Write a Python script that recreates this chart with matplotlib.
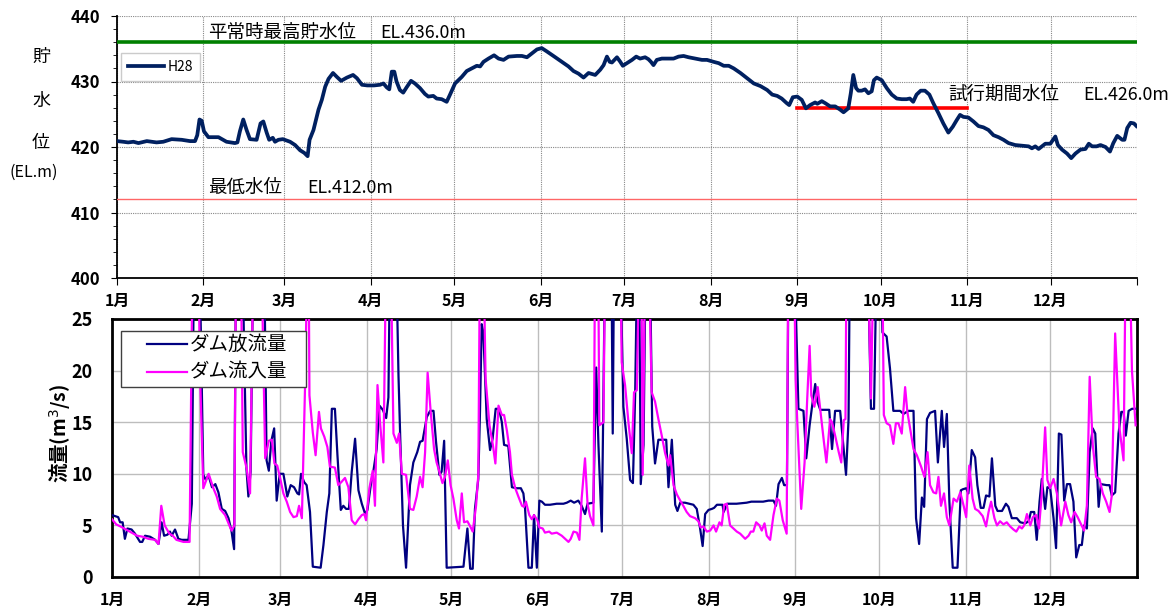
import matplotlib
matplotlib.use("Agg")
import matplotlib.pyplot as plt
from matplotlib.ticker import MultipleLocator, FixedLocator
from matplotlib.patches import Rectangle
from matplotlib.lines import Line2D

plt.rcParams['font.family'] = ['Noto Sans CJK JP', 'DejaVu Sans']

# ---------------- data ----------------
month_starts = [0, 31, 60, 91, 121, 152, 182, 213, 244, 274, 305, 335, 366]
month_labels = ['1月', '2月', '3月', '4月', '5月', '6月', '7月', '8月', '9月', '10月', '11月', '12月']

# reservoir water level H28 (day of year, EL.m)
wl_day = [0, 2.2, 4, 5.9, 7.7, 10.7, 14.2, 16.6, 19.6, 23.2, 26.2, 28, 28.8, 29.6, 30.4, 31.2, 32.8, 36.4,
          39.3, 42.3, 43.2, 44.1, 45.3, 46.5, 47.7, 50.1, 51.5, 52.5, 53.7, 54.6, 55.9, 56.7, 57.9, 59.5,
          62.1, 63.9, 65.7, 67.2, 68.4, 69.1, 70.5, 72.3, 73.5, 74.7, 75.9, 77.5, 78.9, 80.4, 82.5, 84.7,
          86.1, 87.9, 89.8, 92.2, 94.4, 95.6, 96.8, 97.7, 98.6, 99.5, 100.3, 101.5, 102.7, 103.9, 105.5,
          106.9, 108.7, 110.5, 111.7, 113.5, 114.7, 116.5, 118.3, 119.5, 121.3, 123.7, 125.5, 127.3, 129.1,
          130.3, 131.5, 133.3, 135.3, 136.9, 138.7, 140.5, 143.5, 145.3, 147.1, 148.9, 150.7, 152.4, 154.2,
          156.6, 159.6, 162, 163.8, 165.6, 167.4, 169.2, 171.6, 173.4, 174.6, 175.8, 176.8, 177.6, 179.4,
          180.6, 181.5, 183, 184.8, 186.3, 187.7, 189.5, 190.7, 191.6, 192.5, 193.7, 195.5, 197.3, 199.7,
          201.5, 203.3, 205.1, 207.5, 209.9, 211.7, 214.1, 215.9, 217.7, 219.5, 221.3, 223.7, 226.1, 228.5,
          230.9, 233.3, 235.1, 236.9, 238.5, 240.3, 241.2, 242.5, 244.1, 245.7, 247.2, 248.7, 250.5, 251.3,
          252.9, 254.1, 255.9, 257.7, 259.5, 260.7, 262.4, 263.3, 264.2, 265.2, 266, 267.2, 268.4, 269.6,
          270.8, 271.6, 272.6, 274.4, 276.2, 278, 279.8, 281.6, 283.3, 284.5, 285.7, 286.9, 288.4, 289.9,
          291.5, 292.9, 294.7, 296.5, 298.3, 299.9, 301.3, 302.5, 303.7, 305.5, 307.3, 309.1, 310.9, 312.7,
          314.5, 316.3, 318.1, 319.9, 322.3, 324.7, 327.1, 328.3, 329.5, 330.7, 331.9, 333.1, 334.9, 335.9,
          336.7, 337.6, 339.1, 340.9, 342.4, 343.9, 345.7, 347.5, 348.7, 349.9, 351.5, 352.9, 354.7, 356.3,
          357.5, 358.9, 360.7, 361.5, 362.5, 363.7, 364.9, 365.8]
wl_val = [420.9, 420.8, 420.7, 420.8, 420.6, 420.9, 420.7, 420.8, 421.2, 421.1, 420.9, 420.9, 421.8, 424.2,
          424.0, 422.4, 421.5, 421.5, 420.8, 420.6, 420.7, 422.4, 424.2, 422.6, 421.2, 421.1, 423.6, 423.9,
          422.2, 421.1, 421.4, 420.8, 421.1, 421.2, 420.8, 420.3, 419.5, 419.1, 418.6, 421.1, 422.6, 425.7,
          427.2, 429.2, 430.4, 431.3, 430.7, 430.1, 430.6, 431.0, 430.5, 429.5, 429.4, 429.4, 429.5, 429.7,
          429.1, 428.8, 431.5, 431.5, 430.0, 428.7, 428.3, 429.1, 430.1, 429.7, 429.0, 428.1, 427.7, 427.8,
          427.4, 427.3, 426.9, 428.0, 429.7, 430.7, 431.6, 432.0, 432.4, 432.3, 433.0, 433.5, 434.0, 433.5,
          433.3, 433.8, 433.9, 433.9, 433.7, 434.3, 434.9, 435.1, 434.6, 433.9, 433.0, 432.3, 431.6, 431.2,
          430.6, 431.3, 431.0, 431.8, 432.5, 433.8, 433.0, 432.9, 433.7, 433.0, 432.4, 432.8, 433.3, 433.8,
          433.5, 433.7, 433.4, 433.0, 432.5, 433.3, 433.5, 433.5, 433.5, 433.8, 433.9, 433.7, 433.5, 433.3,
          433.3, 433.0, 432.8, 432.4, 432.4, 432.0, 431.3, 430.5, 429.7, 429.3, 428.7, 428.0, 427.8, 427.4,
          426.7, 426.4, 427.6, 427.7, 427.2, 425.9, 426.4, 426.8, 426.6, 427.0, 426.7, 426.2, 426.2, 425.7,
          425.3, 425.9, 428.2, 431.0, 429.0, 428.6, 428.6, 428.8, 428.2, 428.5, 430.2, 430.6, 430.2, 429.0,
          428.0, 427.4, 427.3, 427.3, 427.4, 426.9, 428.0, 428.6, 428.6, 428.0, 426.7, 425.2, 423.6, 422.2,
          423.1, 424.1, 424.9, 424.6, 424.5, 423.9, 423.2, 423.0, 422.6, 421.8, 421.5, 421.1, 420.6, 420.3,
          420.2, 420.1, 419.8, 420.1, 419.7, 420.1, 420.5, 420.5, 421.1, 421.6, 420.3, 419.6, 419.0, 418.3,
          419.0, 419.6, 419.7, 420.5, 420.1, 420.1, 420.3, 420.0, 419.3, 420.6, 421.7, 421.1, 421.1, 422.9,
          423.7, 423.6, 423.2]

# dam outflow (m3/s) -- peaks above 25 run off the top of the chart
out_day = [0, 2.2, 2.9, 3.8, 4.6, 5.5, 7.0, 8.2, 10.0, 10.8, 11.8, 13.6, 15.4, 16.6, 17.7, 18.6, 19.8, 20.7,
           21.3, 22.5, 23.7, 24.9, 27.3, 28.5, 29.3, 31.2, 32.6, 33.5, 34.4, 35.7, 36.9, 38.0, 39.2, 40.4,
           41.6, 42.7, 43.6, 44.3, 46.5, 48.0, 48.7, 49.5, 50.5, 54.3, 55.2, 56.0, 56.9, 57.9, 58.8, 59.9,
           61.2, 62.6, 63.8, 65.0, 66.2, 66.8, 67.5, 68.6, 69.5, 70.7, 71.7, 74.5, 75.5, 76.7, 77.6, 78.5,
           79.6, 80.5, 81.7, 82.6, 83.6, 84.6, 85.6, 86.8, 88.0, 89.2, 90.4, 91.2, 92.4, 93.3, 94.5, 95.5,
           96.7, 97.9, 98.7, 99.3, 101.4, 102.3, 102.9, 103.9, 105.0, 106.4, 107.6, 109.0, 110.0, 110.9,
           112.4, 113.6, 114.8, 115.7, 116.9, 117.7, 118.6, 119.5, 125.5, 126.9, 127.9, 128.8, 129.6, 130.8,
           131.4, 132.0, 132.6, 133.8, 135.0, 135.9, 137.0, 138.2, 139.2, 140.0, 141.5, 142.8, 144.5, 146.0,
           146.9, 147.5, 148.7, 149.9, 150.7, 151.7, 152.6, 153.5, 154.6, 156.4, 158.8, 161.2, 162.4, 163.8,
           165.0, 166.5, 167.7, 168.9, 169.8, 171.9, 172.9, 173.7, 174.9, 176.1, 178.3, 178.8, 179.3, 181.4,
           182.6, 183.8, 185.0, 186.0, 186.8, 187.6, 188.2, 188.8, 189.8, 190.6, 192.0, 192.9, 193.9, 195.1,
           197.9, 198.7, 199.9, 201.1, 201.9, 202.9, 204.6, 207.6, 208.8, 210.0, 210.9, 211.8, 213.0, 214.2,
           215.0, 216.0, 218.0, 218.4, 219.7, 223.0, 226.6, 228.3, 232.5, 234.4, 236.2, 237.1, 238.0, 239.2,
           240.0, 241.0, 241.6, 243.6, 245.1, 246.9, 247.9, 249.1, 250.2, 251.1, 251.9, 252.9, 256.1, 257.1,
           258.2, 260.0, 261.0, 262.1, 263.0, 263.5, 269.8, 271.0, 272.1, 273.1, 274.5, 275.1, 276.6, 277.8,
           279.0, 281.4, 282.6, 284.4, 286.2, 287.1, 288.2, 289.2, 290.0, 291.0, 292.1, 293.9, 294.9, 296.3,
           297.1, 298.1, 299.0, 300.2, 301.9, 303.1, 303.8, 305.0, 305.8, 307.0, 308.2, 309.0, 310.2, 311.2,
           312.1, 313.3, 314.2, 315.4, 316.2, 317.8, 319.2, 320.1, 321.3, 323.1, 324.3, 326.1, 327.3, 328.1,
           329.3, 330.2, 331.2, 332.0, 333.2, 334.0, 335.0, 336.2, 337.1, 338.1, 339.0, 340.0, 341.0, 342.1,
           343.3, 344.3, 345.4, 346.3, 347.1, 348.1, 349.1, 350.2, 351.1, 352.3, 353.1, 355.2, 356.2, 357.0,
           358.2, 359.4, 360.4, 361.2, 362.0, 363.0, 364.2, 365.5]
out_val = [6.0, 5.8, 5.3, 5.3, 3.7, 4.7, 4.6, 4.2, 3.4, 3.4, 4.0, 3.9, 3.6, 3.2, 5.3, 4.0, 4.1, 4.4,
           4.0, 4.6, 3.7, 3.6, 3.6, 7.1, 32, 32, 9.9, 9.4, 9.9, 8.7, 9.0, 8.2, 6.6, 6.4,
           5.7, 4.4, 2.7, 32, 32, 10.5, 7.8, 10.2, 32, 32, 11.3, 10.3, 13.2, 14.4, 7.4, 10.0,
           10.0, 7.8, 8.9, 8.7, 8.1, 8.0, 10.0, 9.2, 8.9, 6.3, 1.0, 0.9, 3.1, 6.3, 8.1, 16.3,
           16.3, 11.8, 6.5, 6.9, 6.6, 6.6, 10.2, 13.4, 8.4, 7.1, 6.1, 6.5, 8.9, 10.2, 12.4, 16.6,
           16.2, 15.4, 17.4, 32, 32, 19.5, 13.7, 5.0, 0.9, 8.9, 11.1, 12.1, 13.1, 13.2,
           15.5, 16.1, 16.1, 13.1, 9.9, 10.2, 13.2, 0.9, 1.0, 4.7, 0.8, 0.8, 6.6, 9.5,
           16.0, 24.5, 23.7, 15.3, 12.3, 13.4, 16.3, 16.3, 15.0, 12.8, 12.7, 8.7, 8.6, 8.6,
           8.1, 6.6, 0.9, 0.9, 6.0, 0.9, 7.4, 7.3, 7.0, 7.0, 7.1, 7.1, 7.2, 7.4,
           7.2, 7.4, 6.9, 6.1, 7.1, 7.2, 20.3, 12.8, 4.4, 32, 32, 13.9, 32, 32,
           16.5, 13.4, 9.4, 9.1, 17.6, 32, 32, 9.0, 12.8, 32, 32, 14.6, 11.0, 13.3,
           13.3, 8.7, 13.3, 7.0, 6.4, 7.2, 7.2, 7.0, 6.6, 4.7, 3.0, 6.1, 6.5, 6.6,
           6.7, 7.0, 7.0, 6.3, 7.1, 7.1, 7.2, 7.3, 7.3, 7.4, 7.4, 6.9, 9.0, 9.6,
           8.9, 8.9, 32, 32, 16.3, 16.1, 11.5, 14.7, 17.0, 18.7, 17.0, 16.2, 16.2, 12.4,
           16.1, 16.1, 13.1, 9.9, 15.3, 32, 32, 16.3, 16.3, 32, 32, 23.7, 23.3, 20.2,
           16.1, 16.1, 15.8, 16.1, 16.1, 5.7, 3.2, 7.7, 6.8, 15.3, 15.9, 16.1, 11.1, 16.1,
           12.6, 15.8, 7.3, 0.9, 0.9, 8.4, 8.5, 8.6, 8.1, 12.3, 11.6, 8.9, 6.7, 6.7,
           7.9, 7.8, 11.5, 6.9, 6.4, 6.4, 7.1, 6.8, 5.7, 5.7, 5.3, 5.2, 5.4, 6.3,
           6.3, 3.6, 7.3, 9.5, 6.6, 8.7, 8.6, 5.7, 2.8, 13.9, 13.8, 7.4, 9.0, 9.0,
           7.3, 1.9, 3.1, 3.1, 5.0, 4.7, 12.1, 14.4, 13.9, 6.8, 9.0, 8.9, 8.9, 7.9,
           8.2, 13.9, 16.0, 16.0, 13.7, 16.1, 16.3, 16.3]

# dam inflow (m3/s)
in_day = [0, 1.5, 3, 5, 7, 9, 11, 13, 15.4, 16.6, 17.6, 18.8, 20.5, 21.7, 23, 25.5, 27.7, 28.8, 30.8, 31.4,
          32.6, 34.5, 36.2, 37.4, 38.6, 40.4, 41.9, 42.7, 43.7, 44.3, 46.0, 46.7, 48.1, 49.3, 50.5, 53.3,
          54.7, 56.0, 57.1, 58.0, 59.0, 60.1, 61.2, 62.4, 63.6, 64.8, 66.0, 66.8, 67.8, 69.0, 69.8, 70.2,
          70.5, 71.7, 72.7, 73.9, 74.6, 75.8, 76.9, 77.8, 79.6, 80.8, 81.9, 83.2, 84.4, 85.6, 86.8, 88.0,
          89.2, 90.1, 90.7, 91.9, 93.1, 93.9, 94.8, 95.7, 96.9, 97.9, 99.5, 100.5, 101.7, 102.5, 103.5,
          105.0, 106.4, 107.6, 108.8, 110.0, 110.9, 111.8, 112.7, 113.8, 115.0, 115.9, 116.9, 118.0, 118.9,
          119.9, 120.9, 121.9, 123.1, 123.9, 124.9, 125.7, 126.9, 128.1, 128.8, 130.0, 130.8, 131.4, 132.6,
          133.4, 134.8, 136.0, 136.9, 138.0, 139.2, 140.0, 141.0, 142.1, 142.8, 144.0, 145.1, 146.4, 147.1,
          147.8, 149.0, 149.9, 150.7, 151.9, 152.6, 153.8, 154.6, 156.1, 157.0, 158.8, 160.6, 161.8, 163.0,
          163.8, 164.8, 166.0, 166.9, 167.7, 168.9, 169.8, 170.7, 171.9, 172.5, 173.6, 174.0, 175.5, 176.1,
          181.5, 182.0, 183.2, 184.4, 185.6, 186.4, 187.4, 188.3, 189.0, 189.5, 190.4, 191.6, 192.7, 193.9,
          195.1, 196.3, 197.5, 198.7, 199.3, 200.5, 201.7, 202.9, 204.0, 205.2, 206.4, 208.2, 209.4, 210.2,
          211.2, 212.4, 213.6, 214.8, 215.7, 216.9, 217.7, 218.6, 219.5, 220.7, 221.9, 223.1, 224.3, 226.1,
          227.3, 228.1, 229.0, 230.0, 231.2, 232.0, 233.0, 233.8, 235.0, 236.2, 237.4, 238.3, 239.5, 240.9,
          241.5, 243.5, 244.1, 244.7, 246.1, 247.3, 248.2, 249.1, 249.7, 250.8, 252.0, 253.0, 254.2, 255.1,
          256.4, 257.1, 258.3, 259.5, 260.4, 261.3, 261.9, 262.3, 269.8, 271.0, 272.0, 275.0, 275.6, 276.6,
          277.8, 279.0, 279.9, 280.8, 282.0, 283.2, 284.0, 285.2, 286.2, 287.4, 288.9, 290.1, 291.2, 292.1,
          293.3, 294.3, 295.1, 296.0, 297.1, 298.1, 299.0, 300.5, 301.7, 302.9, 304.1, 305.0, 306.1, 307.3,
          308.2, 309.4, 310.9, 312.1, 313.0, 313.9, 315.1, 316.0, 317.1, 318.3, 319.5, 320.7, 321.9, 322.9,
          324.0, 324.9, 325.7, 326.7, 327.9, 328.8, 330.0, 331.0, 332.0, 333.2, 334.0, 335.0, 336.2, 337.4,
          338.9, 340.4, 341.5, 342.5, 343.7, 344.8, 345.7, 347.1, 348.1, 349.1, 350.2, 351.4, 352.6, 353.8,
          355.0, 356.2, 357.0, 358.2, 359.7, 361.2, 362.0, 363.3, 364.2, 365.5]
in_val = [5.6, 5.1, 4.9, 4.6, 4.3, 4.0, 3.9, 3.7, 3.6, 3.2, 6.9, 5.0, 4.2, 4.0, 3.6, 3.4, 3.4, 32, 32, 20.0,
          8.6, 10.0, 8.6, 7.8, 6.6, 6.0, 5.0, 4.5, 5.0, 32, 32, 12.1, 10.5, 8.1, 32, 32,
          11.5, 13.2, 13.3, 11.0, 10.8, 9.5, 8.1, 7.3, 6.3, 5.8, 5.9, 6.9, 5.7, 19.2, 32, 32,
          17.6, 14.0, 11.8, 16.0, 14.4, 13.6, 12.6, 10.7, 10.6, 8.9, 9.2, 9.6, 8.7, 5.5, 5.1, 5.6,
          6.0, 6.1, 5.5, 8.6, 10.3, 6.9, 18.6, 15.0, 11.1, 32, 32, 13.9, 13.0, 13.9, 10.0,
          9.9, 6.6, 6.5, 7.8, 9.7, 8.7, 12.1, 19.8, 16.0, 12.4, 11.1, 10.2, 9.1, 9.7,
          11.3, 8.9, 7.6, 5.5, 4.7, 8.1, 5.3, 5.4, 4.8, 4.4, 6.9, 9.9, 32, 32,
          19.2, 14.7, 12.8, 11.0, 16.6, 15.7, 15.7, 14.2, 12.1, 9.9, 8.6, 7.8, 6.9, 6.8,
          7.3, 6.0, 5.6, 6.0, 5.5, 4.8, 4.7, 4.3, 4.4, 4.2, 4.3, 4.0, 3.7, 3.4,
          3.7, 4.4, 4.3, 3.6, 7.6, 11.5, 7.1, 5.9, 5.0, 32, 32, 14.7, 15.0, 32,
          32, 20.8, 18.6, 15.0, 12.0, 17.9, 18.1, 32, 32, 9.9, 32, 32, 17.9, 17.0,
          15.3, 13.7, 12.0, 10.8, 11.8, 8.9, 8.0, 7.4, 6.9, 6.3, 5.9, 5.7, 5.4, 4.8,
          4.9, 4.4, 4.5, 5.0, 4.4, 5.3, 5.0, 7.0, 7.1, 5.0, 4.7, 4.4, 4.2, 3.7,
          4.0, 4.4, 4.4, 5.3, 5.0, 4.5, 5.2, 4.0, 3.6, 6.0, 7.6, 7.4, 5.5, 4.2,
          32, 32, 19.2, 15.0, 6.6, 11.1, 17.0, 22.4, 17.6, 16.5, 18.4, 16.0, 13.1, 11.1,
          15.3, 15.0, 13.6, 12.1, 11.1, 15.2, 15.3, 32, 32, 17.3, 32, 32, 15.7, 14.9,
          14.7, 12.9, 14.9, 14.9, 13.9, 18.4, 16.0, 14.0, 12.4, 11.8, 10.7, 9.7, 12.1, 8.9,
          8.2, 8.1, 9.7, 6.9, 8.1, 5.8, 5.0, 7.6, 7.3, 8.2, 6.9, 5.8, 10.8, 7.6,
          6.6, 6.4, 5.9, 4.9, 6.3, 7.3, 5.7, 5.0, 5.4, 5.1, 5.3, 4.9, 4.6, 4.4,
          4.9, 4.7, 5.0, 6.1, 5.0, 5.8, 6.0, 4.7, 8.1, 14.5, 9.4, 8.6, 9.5, 8.1,
          5.0, 7.3, 6.0, 5.3, 6.3, 5.8, 5.3, 4.5, 6.9, 19.4, 12.8, 9.7, 9.5, 8.1,
          7.3, 6.3, 7.9, 23.6, 14.5, 11.3, 32, 32, 20.0, 14.7]

normal_high = 436.0
min_level = 412.0
trial_level = 426.0
trial_start, trial_end = 244, 305

series_labels = ['ダム放流量', 'ダム流入量']
series_colors = ['#000080', '#ff00ff']

# ---------------- figure ----------------
W, H = 1170, 607
fig = plt.figure(figsize=(W / 100, H / 100), dpi=100)


def fx(px):
    return px / W


def fy(py):
    return 1 - py / H


ax1 = fig.add_axes([fx(117), fy(278), fx(1137) - fx(117), fy(16) - fy(278)])
ax2 = fig.add_axes([fx(112), fy(577), fx(1137) - fx(112), fy(319) - fy(577)])

# ---- top panel ----
ax1.set_xlim(0, 366)
ax1.set_ylim(400, 440)
ax1.xaxis.set_major_locator(FixedLocator(month_starts))
ax1.set_xticklabels(month_labels + [''])
ax1.yaxis.set_major_locator(MultipleLocator(10))
ax1.yaxis.set_minor_locator(MultipleLocator(2))
ax1.grid(True, which='major', color='#888888', linestyle=(0, (1, 1)), linewidth=0.8)
for s in ['top', 'right']:
    ax1.spines[s].set_visible(False)
for s in ['left', 'bottom']:
    ax1.spines[s].set_linewidth(1.3)
ax1.tick_params(axis='y', which='major', direction='out', length=4, pad=8, labelsize=12)
ax1.tick_params(axis='y', which='minor', direction='out', length=3)
ax1.tick_params(axis='x', direction='out', length=5, pad=6, labelsize=11.5)
for lab in ax1.get_yticklabels() + ax1.get_xticklabels():
    lab.set_fontweight('bold')

ax1.axhline(normal_high, color='#008000', linewidth=2.6, zorder=3)
ax1.axhline(min_level, color='#ff6666', linewidth=1.0, zorder=3)
ax1.plot([trial_start, trial_end], [trial_level, trial_level], color='#ff0000', linewidth=2.6, zorder=3)
ax1.plot(wl_day, wl_val, color='#002060', linewidth=2.7, zorder=4, label='H28',
         solid_joinstyle='round')

leg1 = ax1.legend(loc='upper left', bbox_to_anchor=(fx(122) - fx(117), 1 - (53 - 16) / 262),
                  frameon=True, fancybox=False, edgecolor='#bfbfbf', fontsize=10,
                  handlelength=2.6, handletextpad=0.2, borderpad=0.5, borderaxespad=0)
leg1.get_frame().set_linewidth(1.0)

kw = dict(fontsize=13.3, va='center', ha='left', color='black')
kw_el = dict(fontsize=12.8, va='center', ha='left', color='black')
fig.text(fx(208), fy(33), '平常時最高貯水位', **kw)
fig.text(fx(380), fy(33), 'EL.436.0m', **kw_el)
fig.text(fx(208), fy(188), '最低水位', **kw)
fig.text(fx(307), fy(188), 'EL.412.0m', **kw_el)
fig.text(fx(948), fy(95), '試行期間水位', **kw)
fig.text(fx(1083), fy(95), 'EL.426.0m', **kw_el)

for ch, py in [('貯', 57), ('水', 101), ('位', 143)]:
    fig.text(fx(41), fy(py), ch, fontsize=13, ha='center', va='center')
fig.text(fx(34), fy(172), '(EL.m)', fontsize=11.5, ha='center', va='center')

# ---- bottom panel ----
ax2.set_xlim(0, 366)
ax2.set_ylim(0, 25)
ax2.xaxis.set_major_locator(FixedLocator(month_starts))
ax2.set_xticklabels(month_labels + [''])
ax2.yaxis.set_major_locator(MultipleLocator(5))
ax2.grid(True, color='#bdbdbd', linewidth=1.0)
for s in ax2.spines.values():
    s.set_linewidth(2.0)
ax2.tick_params(axis='y', length=0, pad=14, labelsize=13)
ax2.tick_params(axis='x', length=0, pad=11, labelsize=11.5)
for lab in ax2.get_yticklabels() + ax2.get_xticklabels():
    lab.set_fontweight('bold')

ax2.plot(out_day, out_val, color=series_colors[0], linewidth=1.6, zorder=3)
ax2.plot(in_day, in_val, color=series_colors[1], linewidth=1.6, zorder=4)

# legend box (drawn in figure pixels to match the original's wide padding)
fig.patches.append(Rectangle((fx(121), fy(387)), fx(306) - fx(121), fy(331) - fy(387),
                             transform=fig.transFigure, facecolor='white', edgecolor='#404040',
                             linewidth=1.0, zorder=5))
for lab, col, py in zip(series_labels, series_colors, [344, 372]):
    fig.lines.append(Line2D([fx(147), fx(187)], [fy(py), fy(py)], transform=fig.transFigure,
                            color=col, linewidth=1.6, zorder=6))
    fig.text(fx(190), fy(py), lab, fontsize=14, ha='left', va='center', zorder=6)

fig.text(fx(60), fy(433), '流量(m$^3$/s)', fontsize=14, fontweight='bold', rotation=90,
         ha='center', va='center')

fig.savefig('out.png', dpi=100)
